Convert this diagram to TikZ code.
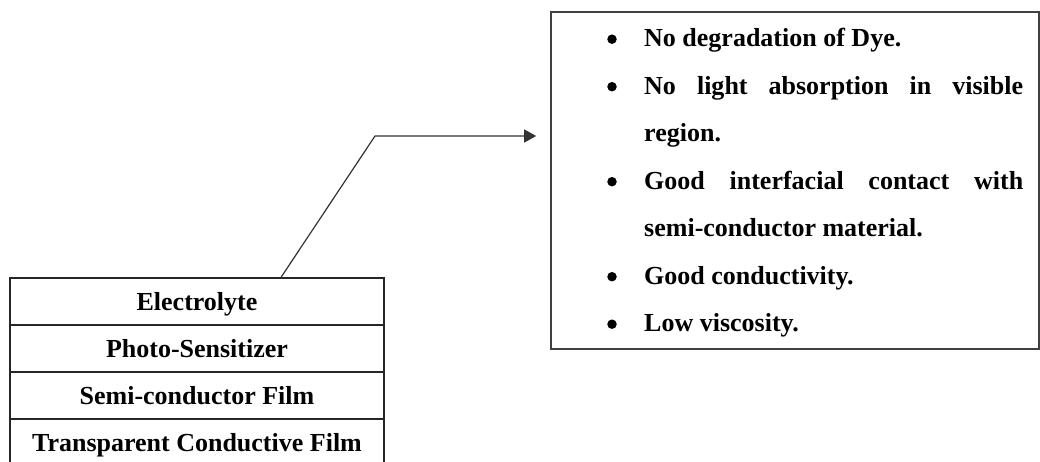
\documentclass[tikz,border=0pt]{standalone}
\usepackage{fontspec}
\setmainfont{Liberation Serif}
\usetikzlibrary{arrows.meta}
\begin{document}
\begin{tikzpicture}[x=1pt,y=-1pt,
  layer/.style={draw=black!85, line width=1.3pt, rectangle, minimum width=374pt,
    minimum height=47pt, inner sep=0pt, text height=17pt, text depth=0pt,
    font=\fontsize{26pt}{30pt}\selectfont\bfseries},
  panel/.style={draw=black!75, line width=1.6pt, rectangle, minimum width=488pt,
    minimum height=337pt, inner sep=0pt},
  item/.style={anchor=base west, inner sep=0pt, font=\fontsize{26pt}{30pt}\selectfont\bfseries},
  dot/.style={circle, fill=black, draw=none, minimum size=9.5pt, inner sep=0pt},
  link/.style={draw=black!80, line width=1.2pt}]
\useasboundingbox (0,0) rectangle (1040,461);
\clip (0,0) rectangle (1040,461);

% layered cell structure
\node[layer] (elec)  at (197,301.5) {Electrolyte};
\node[layer] (sens)  at (197,348.5) {Photo-Sensitizer};
\node[layer] (semi)  at (197,395.5) {Semi-conductor Film};
\node[layer] (tcf)   at (197,442.5) {Transparent Conductive Film};

% requirements panel
\node[panel] (props) at (795,180.5) {};

\foreach \n/\y in {b1/46.7, b2/94.2, b3/189.2, b4/284.2, b5/331.7}
  \node[dot] (\n) at (612,\y-7.5) {};

\node[item] (t1) at (644,46.7)  {No degradation of Dye.};
\node[item] (t2) at (644,94.2)  {\makebox[379pt][s]{No\hfill light\hfill absorption\hfill in\hfill visible}};
\node[item] (t3) at (644,141.7) {region.};
\node[item] (t4) at (644,189.2) {\makebox[379pt][s]{Good\hfill interfacial\hfill contact\hfill with}};
\node[item] (t5) at (644,236.7) {semi-conductor material.};
\node[item] (t6) at (644,284.2) {Good conductivity.};
\node[item] (t7) at (644,331.7) {Low viscosity.};

% connector from electrolyte to panel
\coordinate (bend) at (375,136);
\coordinate (start) at ([xshift=84pt]elec.north);
\draw[link, -{Triangle[length=12pt,width=13pt]}]
  (start) -- (bend) -- ([xshift=-14pt]bend -| props.west);
\end{tikzpicture}
\end{document}
